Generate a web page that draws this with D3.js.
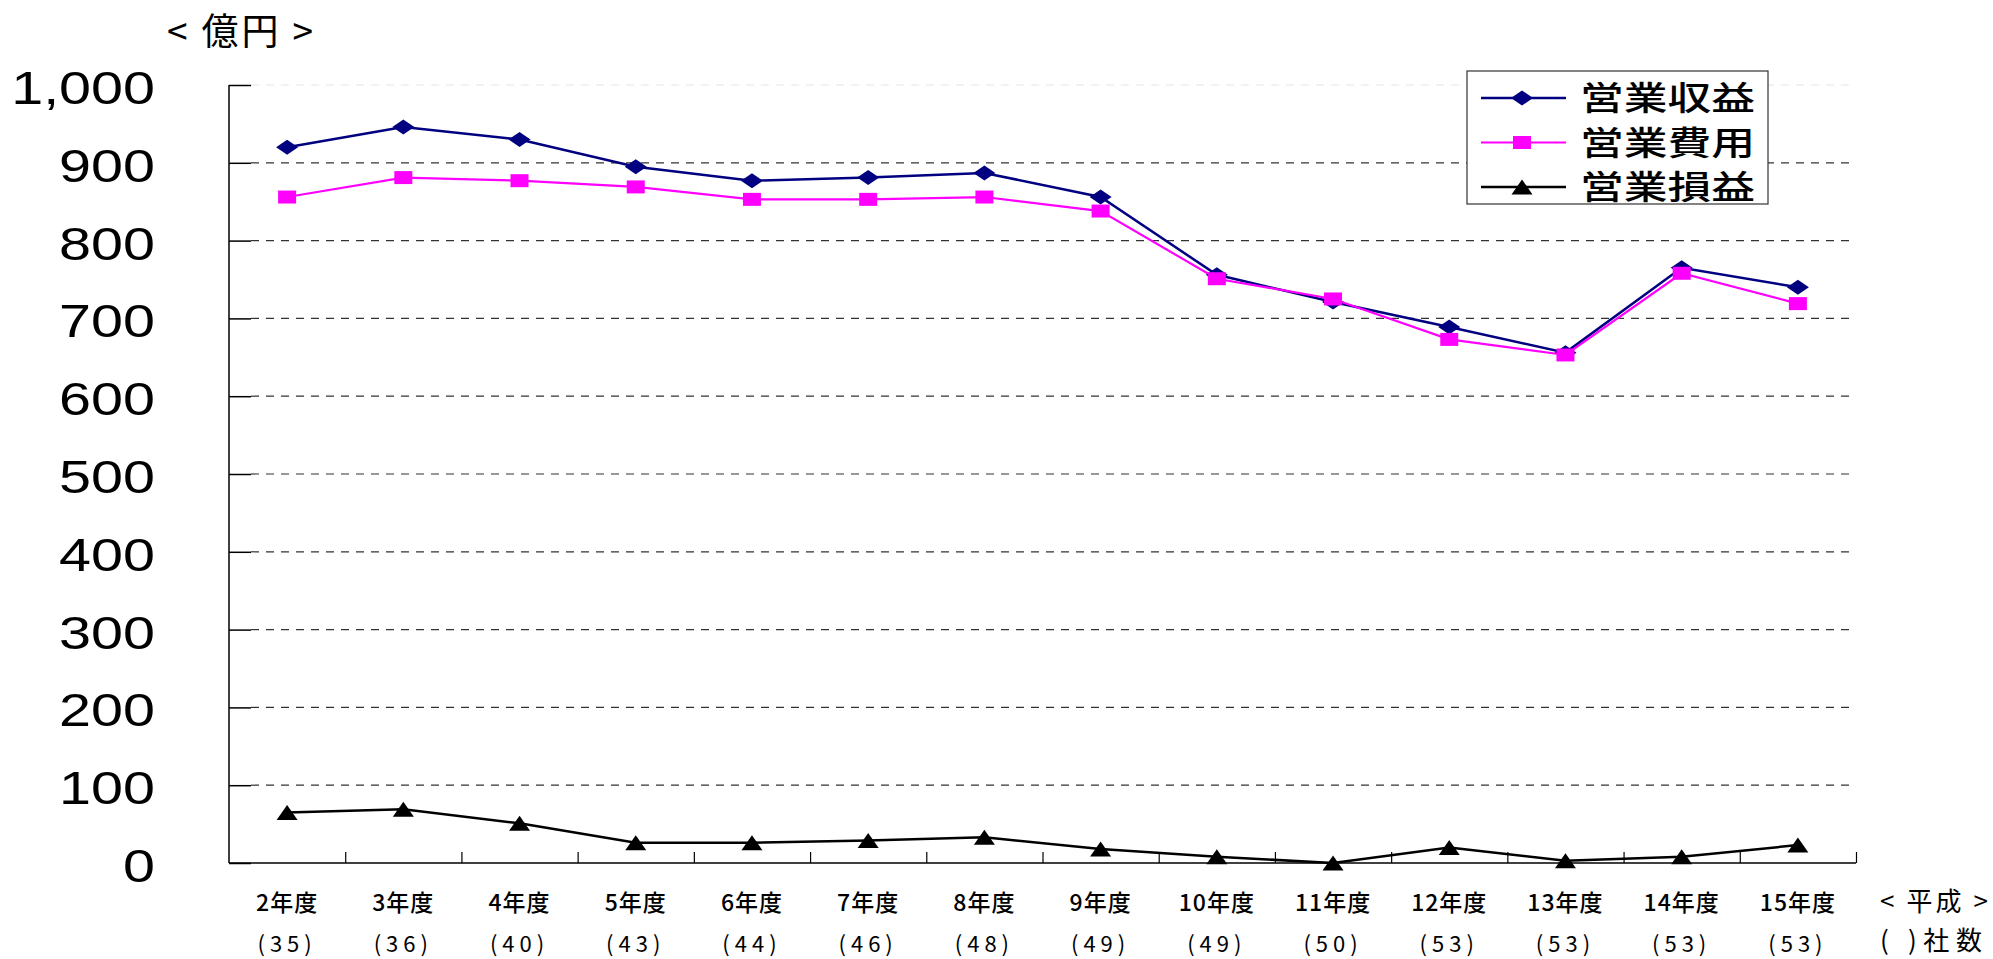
<!DOCTYPE html>
<html lang="ja">
<head>
<meta charset="UTF-8"/>
<title>営業収益・営業費用・営業損益</title>
<script src="https://d3js.org/d3.v7.min.js"></script>
<style>
	body { margin: 0; background: #fff; }
	.jp { font-family: "Noto Sans CJK JP", "Noto Sans", sans-serif; fill: #000; }
	.num { font-family: "Liberation Sans", Arial, sans-serif; fill: #000; }
	.grid { stroke: #333; stroke-width: 1.2; stroke-dasharray: 8 7; }
</style>
</head>
<body>
<div id="chart"></div>
<script>
// fiscal years (Heisei) and company counts
var years = ["2年度","3年度","4年度","5年度","6年度","7年度","8年度","9年度","10年度","11年度","12年度","13年度","14年度","15年度"];
var companies = [35,36,40,43,44,46,48,49,49,50,53,53,53,53];

// 億円
var revenue = [920,946,930,895,877,881,887,856,756,721,689,656,765,740];
var expense = [856,881,877,869,853,853,856,838,751,725,673,653,758,719];
var profit  = [65,69,51,26,26,29,33,18,8,0,20,3,8,23];

var yTicks = [0,100,200,300,400,500,600,700,800,900,1000];
var seriesNames = ["営業収益","営業費用","営業損益"];

var w = 1993, h = 959;
var plotLeft = 229, plotRight = 1856, plotTop = 85, plotBottom = 863;

var svg = d3.select("#chart").append("svg")
	.attr("width", w)
	.attr("height", h);

var xScale = d3.scaleBand().domain(years).range([plotLeft, plotRight]).paddingInner(0).paddingOuter(0);
var yScale = d3.scaleLinear().domain([0, 1000]).range([plotBottom, plotTop]);

// gridlines
svg.selectAll(".grid").data(yTicks.filter(function(d){ return d > 0; }))
	.enter().append("line")
	.attr("class", "grid")
	.attr("x1", plotLeft + 22).attr("x2", plotRight - 6)
	.attr("y1", function(d){ return yScale(d); })
	.attr("y2", function(d){ return yScale(d); })
	.style("stroke", function(d){ return d == 1000 ? "#e6e6e6" : null; });

// y axis: ticks point inward
var yAxis = d3.axisRight(yScale).tickValues(yTicks).tickSize(22).tickFormat("");
var gy = svg.append("g").attr("transform", "translate(" + plotLeft + ",0)").call(yAxis);
gy.select(".domain").attr("stroke", "#000").attr("stroke-width", 1.5).attr("d", "M0," + plotTop + "V" + plotBottom);
gy.selectAll(".tick line").attr("stroke", "#000").attr("stroke-width", 1.5);

svg.selectAll(".ylab").data(yTicks).enter().append("text")
	.attr("class", "num ylab")
	.attr("transform", function(d){ return "translate(155," + (yScale(d) + 19) + ") scale(1.25,1)"; })
	.attr("text-anchor", "end")
	.style("font-size", "46px")
	.text(function(d){ return d3.format(",")(d); });

// x axis: ticks at category boundaries, pointing up
var xBound = d3.scaleLinear().domain([0, years.length]).range([plotLeft, plotRight]);
var xAxis = d3.axisTop(xBound).tickValues(d3.range(1, years.length + 1)).tickSize(11).tickFormat("");
var gx = svg.append("g").attr("transform", "translate(0," + plotBottom + ")").call(xAxis);
gx.select(".domain").attr("stroke", "#000").attr("stroke-width", 1.5).attr("d", "M" + plotLeft + ",0H" + plotRight);
gx.selectAll(".tick line").attr("stroke", "#000").attr("stroke-width", 1.2);

svg.selectAll(".xlab").data(years).enter().append("text")
	.attr("class", "jp xlab")
	.attr("x", function(d){ return xScale(d) + xScale.bandwidth() / 2; })
	.attr("y", 911)
	.attr("text-anchor", "middle")
	.style("font-size", "23px")
	.style("font-weight", "500")
	.style("letter-spacing", "1px")
	.text(function(d){ return d; });

svg.selectAll(".clab").data(companies).enter().append("text")
	.attr("class", "jp clab")
	.attr("x", function(d, i){ return xScale(years[i]) + xScale.bandwidth() / 2; })
	.attr("y", 952)
	.attr("text-anchor", "middle")
	.style("font-size", "22px")
	.style("letter-spacing", "5px")
	.text(function(d){ return "(" + d + ")"; });

// axis titles
svg.append("text").attr("class", "jp")
	.attr("x", 167).attr("y", 45)
	.attr("textLength", 146).attr("lengthAdjust", "spacing")
	.style("font-size", "37px")
	.text("< 億円 >");
svg.append("text").attr("class", "jp")
	.attr("x", 1880).attr("y", 911)
	.attr("textLength", 108).attr("lengthAdjust", "spacing")
	.style("font-size", "26px")
	.text("< 平成 >");
svg.append("text").attr("class", "jp")
	.attr("x", 1880).attr("y", 950)
	.attr("textLength", 102).attr("lengthAdjust", "spacing")
	.style("font-size", "26px")
	.text("(  )社数");

// markers
var diamond = "M0,-7.5L11,0L0,7.5L-11,0Z";
var square = "M-9,-6.5H9V6.5H-9Z";
var triangle = "M0,-7.5L10.5,7.5L-10.5,7.5Z";

var series = [
	{ name: seriesNames[0], values: revenue, color: "#000080", marker: diamond, width: 2.5 },
	{ name: seriesNames[1], values: expense, color: "#ff00ff", marker: square, width: 2.2 },
	{ name: seriesNames[2], values: profit, color: "#000000", marker: triangle, width: 2.5 }
];

var line = d3.line()
	.x(function(d, i){ return xScale(years[i]) + xScale.bandwidth() / 2; })
	.y(function(d){ return yScale(d); });

series.forEach(function(s){
	svg.append("path")
		.datum(s.values)
		.attr("fill", "none")
		.attr("stroke", s.color)
		.attr("stroke-width", s.width)
		.attr("d", line);
	svg.selectAll(null).data(s.values).enter().append("path")
		.attr("d", s.marker)
		.attr("fill", s.color)
		.attr("transform", function(d, i){
			return "translate(" + (xScale(years[i]) + xScale.bandwidth() / 2) + "," + yScale(d) + ")";
		});
});

// legend
var legend = svg.append("g");
legend.append("rect")
	.attr("x", 1467).attr("y", 71)
	.attr("width", 301).attr("height", 133)
	.attr("fill", "#fff").attr("stroke", "#333").attr("stroke-width", 1.2);

series.forEach(function(s, i){
	var y = 98 + i * 44.5;
	legend.append("line")
		.attr("x1", 1481).attr("x2", 1566)
		.attr("y1", y).attr("y2", y)
		.attr("stroke", s.color).attr("stroke-width", s.width);
	legend.append("path")
		.attr("d", s.marker)
		.attr("fill", s.color)
		.attr("transform", "translate(1522," + y + ")");
	legend.append("text")
		.attr("class", "jp")
		.attr("x", 1580).attr("y", y + 12)
		.attr("textLength", 175).attr("lengthAdjust", "spacingAndGlyphs")
		.style("font-size", "33px")
		.style("font-weight", "500")
		.text(s.name);
});
</script>
</body>
</html>
